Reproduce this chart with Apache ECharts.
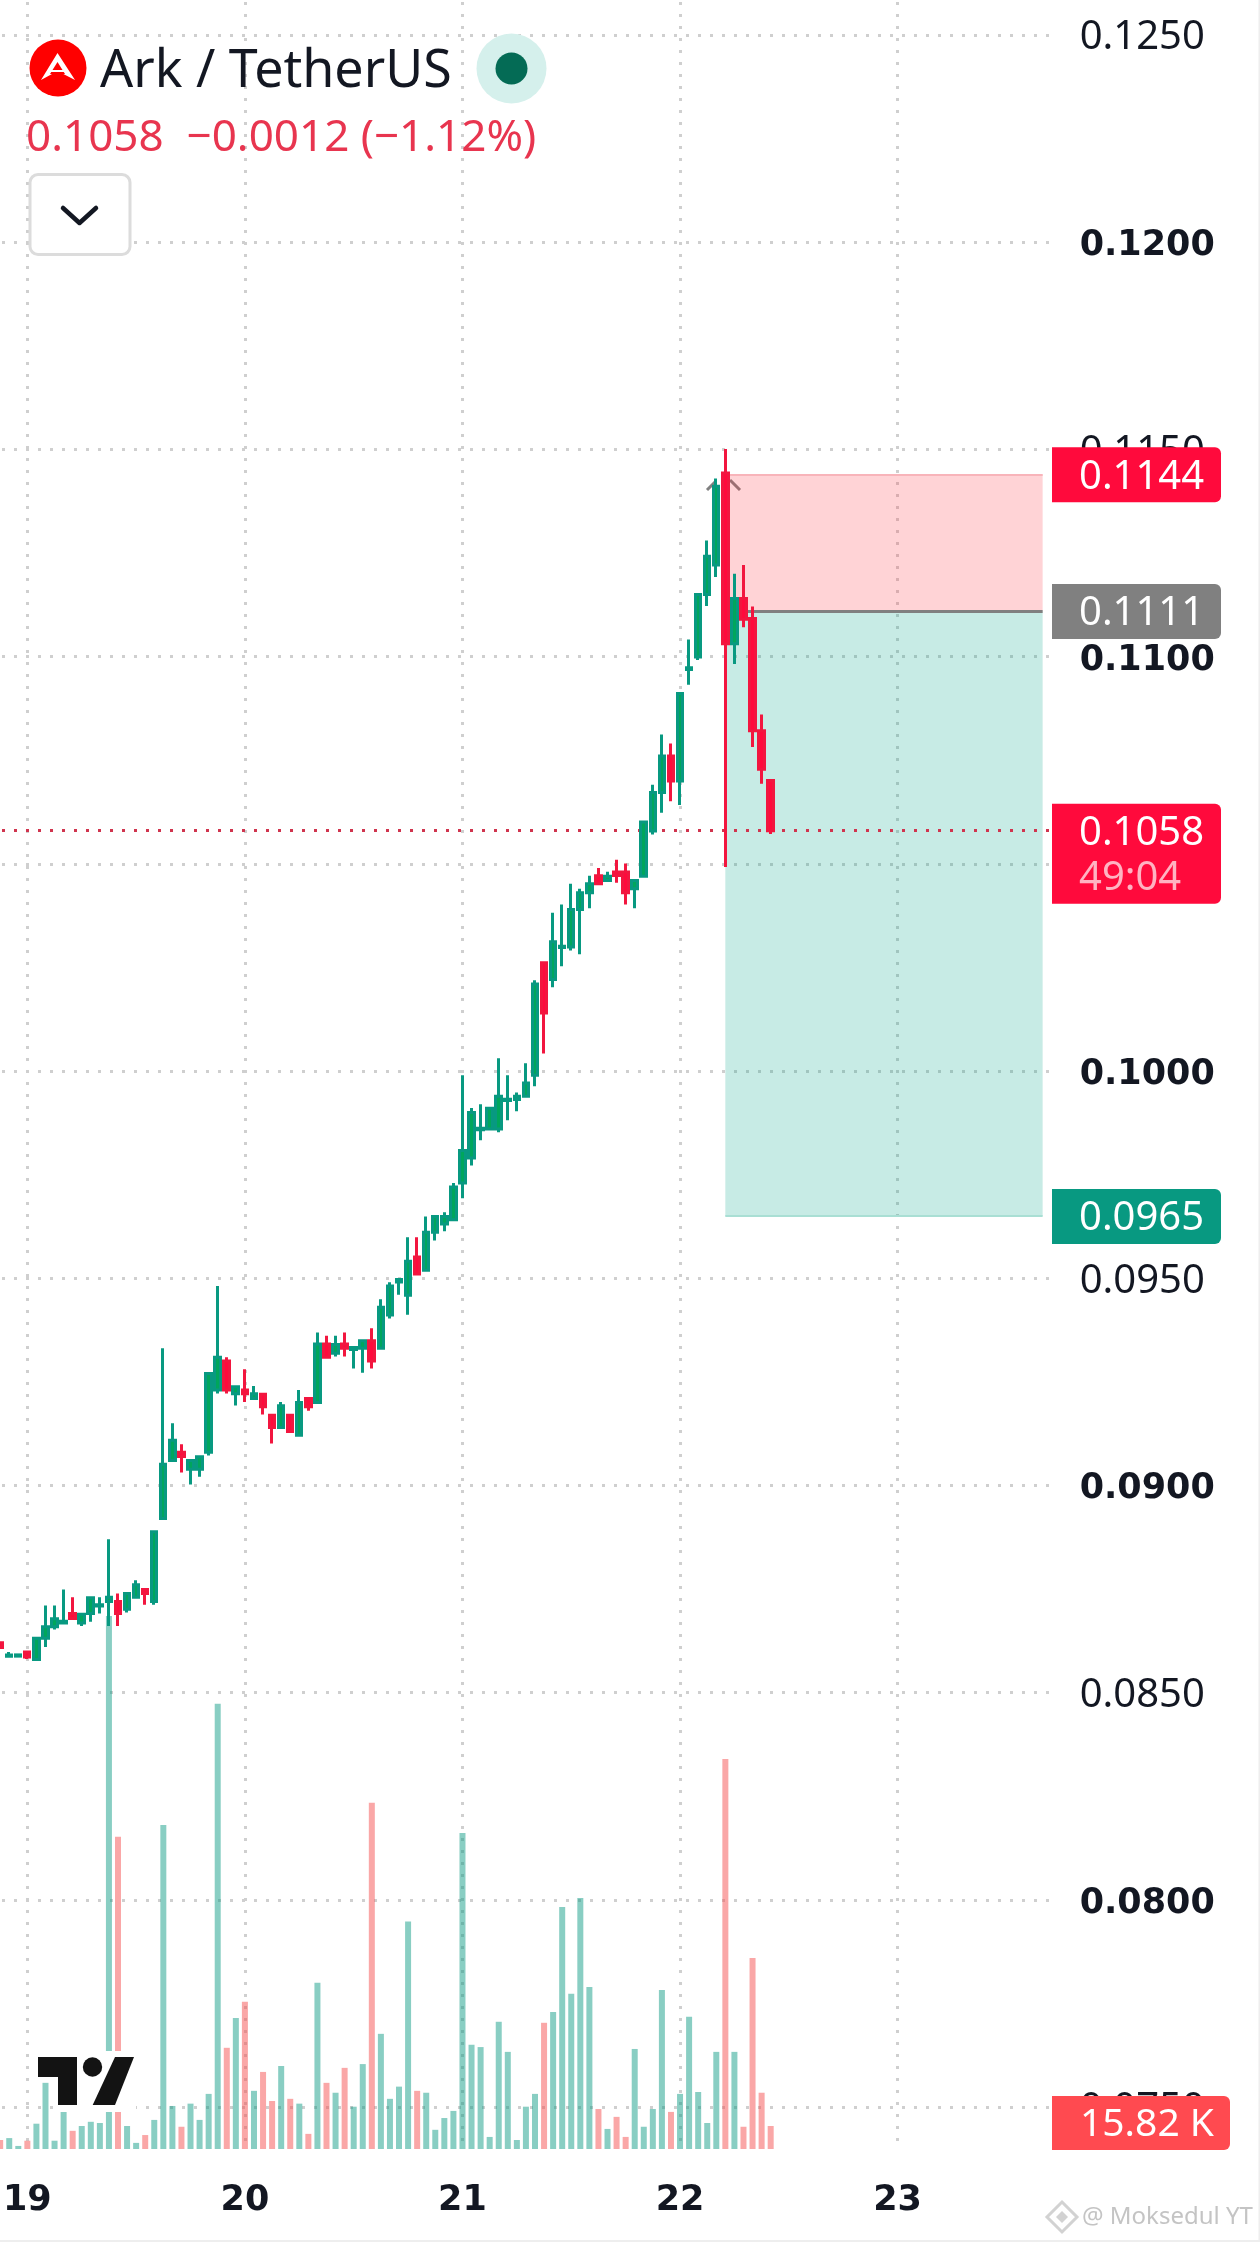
<!DOCTYPE html>
<html><head><meta charset="utf-8">
<style>html,body{margin:0;padding:0;background:#fff}#c{width:1260px;height:2242px}</style>
<script src="https://cdn.jsdelivr.net/npm/echarts@6/dist/echarts.min.js"></script>
</head><body><div id="c"></div>
<script>
// hourly candles, first one is hour -3 relative to the 19th 00:00
const firstHour = -3, lastHour = 113;
const opens = [.0862,.08588,.08588,.08598,.0858,.08631,.08659,.08668,.08691,.08668,.08691,.08709,.0872,.0872,.08701,.0873,.08749,.0872,.0892,.0906,.0908,.09039,.09039,.0908,.0923,.093,.09221,.0923,.0921,.0922,.09169,.0914,.09169,.09121,.0921,.092,.09341,.09319,.09341,.09328,.09331,.09349,.09331,.09411,.09491,.09459,.09551,.09519,.09611,.09631,.09641,.0973,.0979,.09858,.0986,.0986,.09929,.09931,.09939,.0999,.10261,.10221,.10298,.10299,.1039,.1043,.10471,.1046,.1048,.1048,.1044,.1047,.10579,.10672,.1076,.107,.10969,.10999,.1115,.11221,.11443,.11031,.1114,.11092,.10821,.10701];
const highs = [.0862,.08598,.08591,.08598,.08631,.0871,.0871,.08749,.0873,.08689,.08729,.0873,.0887,.08739,.08739,.08771,.08749,.08888,.09331,.0915,.09099,.0906,.09069,.0927,.09481,.09309,.09238,.0928,.0924,.0922,.09169,.09201,.09169,.0923,.0921,.09369,.09361,.09361,.09369,.09333,.09349,.09379,.09449,.0949,.095,.09599,.09599,.09649,.09649,.09659,.0973,.0999,.09911,.0992,.0991,.10031,.0999,.09948,.10019,.10219,.10261,.10382,.10402,.10452,.1044,.10471,.1049,.10481,.1051,.10501,.1046,.10601,.10691,.10812,.1079,.10911,.11041,.1115,.1128,.1143,.11501,.112,.11221,.11121,.1086,.10701];
const lows = [.08609,.08588,.08588,.08581,.0858,.0861,.08652,.08666,.08679,.08661,.08671,.08691,.08661,.08661,.08693,.0873,.08712,.08712,.0892,.0906,.09031,.09002,.09021,.09072,.09222,.09222,.09193,.09201,.0921,.09171,.09101,.0914,.0913,.09121,.0918,.092,.09309,.09311,.09311,.09282,.09272,.09282,.09331,.09403,.0946,.09412,.0951,.09519,.09591,.09613,.09641,.09693,.09772,.09833,.0986,.09852,.09881,.09903,.09939,.09963,.10042,.10202,.10253,.10291,.10282,.10393,.10452,.1046,.10454,.10402,.10393,.1047,.10571,.10623,.10651,.10642,.10932,.10992,.11122,.11192,.10492,.10982,.11071,.10782,.10693,.10572];
const closes = [.08609,.08591,.08591,.08586,.08631,.08659,.08678,.08672,.08679,.08689,.08729,.08712,.0873,.08691,.08739,.0876,.08739,.08888,.09051,.09109,.0907,.0906,.09069,.0927,.09309,.0923,.09238,.09221,.09221,.0919,.0914,.09192,.0913,.092,.0919,.09341,.09309,.0934,.09331,.09333,.09349,.093,.0943,.09481,.09497,.09541,.0951,.09611,.09649,.09649,.0972,.09808,.099,.09862,.0991,.09939,.09932,.09939,.09971,.1021,.1014,.10312,.10301,.1039,.1043,.10452,.10452,.1047,.10472,.1043,.1046,.10601,.10672,.1076,.107,.10911,.10973,.1115,.11242,.11411,.11031,.1114,.1109,.10821,.10728,.1058];
const volumes = [6.2,7.5,2.1,5.7,17.4,45.5,5.7,26,12.5,15.8,18.7,17.9,366.6,214.8,15.8,4.2,9.6,20,222.9,29.6,15.3,31.2,20,37.9,306.2,69.6,90.1,101.3,40,53,33,57.1,34.5,31.2,10.4,114.3,45.5,38.7,55.8,29.1,58.4,238.2,79.2,34.5,42.9,156.4,40,38.7,13.2,21.3,26.2,217.4,71.7,70.1,8.3,87.5,66.8,6.2,29.1,37.9,86.8,94.3,166.5,106.8,172.7,111.4,27.5,13.8,22.1,8.3,68.8,15.3,27.5,109.4,25.5,37.9,90.9,39.2,17.9,66.8,268.3,66.8,15.3,131.4,38.7,15.82];
const priceTickMin = 0.075, priceTickMax = 0.125, priceTickStep = 0.005;
const entryPrice = 0.1111, stopPrice = 0.1144, targetPrice = 0.0965, lastPrice = 0.1058;
const badgePrices = [stopPrice, entryPrice, lastPrice, targetPrice];
const badgeTexts = ['0.1144','0.1111','0.1058','0.0965'];
const badgeColors = ['#FF0A3C','#808080','#FF0A3C','#089981'];
const countdown = '49:04';
const lastVolume = 15.82, lastVolumeText = '15.82 K';
const titleText = 'Ark / TetherUS';
const quoteText = '0.1058  \u22120.0012 (\u22121.12%)';
const watermark = '@ Moksedul YT';

const categories = [];
for (let h = firstHour; h <= lastHour; h++) {
  const d = 19 + Math.floor(h / 24), hh = ((h % 24) + 24) % 24;
  categories.push(d + ' ' + String(hh).padStart(2, '0') + ':00');
}
const dayStart = (i) => categories[i].endsWith(' 00:00');
const catOfHour = (h) => categories[h - firstHour];
const candleData = opens.map((o, i) => [o, closes[i], lows[i], highs[i]]);
const volumeData = volumes.map((v, i) => ({
  value: v,
  itemStyle: { color: closes[i] >= opens[i] ? 'rgba(8,153,129,0.48)' : 'rgba(245,80,80,0.5)' }
}));

const textColor = '#131722';
const regularFont = 'Noto Sans', boldFont = 'DejaVu Sans';
const dot = { color: '#cfcfcf', width: 3, type: [3, 9], dashOffset: 10 };
const zoneStart = catOfHour(77), zoneEnd = catOfHour(112);

const chart = echarts.init(document.getElementById('c'), null, { renderer: 'canvas', width: 1260, height: 2242 });

function badgeItem(params, api) {
  const i = params.dataIndex;
  const y = api.coord([0, badgePrices[i]])[1];
  const isLast = badgePrices[i] === lastPrice;
  const top = y - 27, h = isLast ? 100 : 55;
  const kids = [
    { type: 'rect', shape: { x: 1052, y: top, width: 169, height: h, r: [0, 6, 6, 0] }, style: { fill: badgeColors[i] } },
    { type: 'text', style: { x: 1079, y: y + 3, text: badgeTexts[i], fill: '#fff', font: '40px "' + regularFont + '"', textAlign: 'left', textVerticalAlign: 'middle' } }
  ];
  if (isLast) kids.push({ type: 'text', style: { x: 1079, y: y + 48, text: countdown, fill: '#FFB3C2', font: '40px "' + regularFont + '"', textAlign: 'left', textVerticalAlign: 'middle' } });
  return { type: 'group', children: kids };
}
function volumeBadge(params, api) {
  const y = api.coord([0, lastVolume])[1];
  return { type: 'group', children: [
    { type: 'rect', shape: { x: 1052, y: y - 30, width: 178, height: 54, r: [0, 6, 6, 0] }, style: { fill: '#FF4A50' } },
    { type: 'text', style: { x: 1080, y: y - 1, text: lastVolumeText, fill: '#fff', font: '39px "' + regularFont + '"', textAlign: 'left', textVerticalAlign: 'middle' } }
  ] };
}

chart.setOption({
  animation: false,
  backgroundColor: '#fff',
  title: { text: titleText, left: 95, top: 41, textStyle: { fontFamily: regularFont, fontSize: 52, fontWeight: 'normal', color: textColor } },
  grid: [
    { left: -1.95, right: 208.3, top: 35, height: 2072 },
    { left: -1.95, right: 208.3, top: 0, bottom: 93 }
  ],
  xAxis: [
    { type: 'category', gridIndex: 0, data: categories, boundaryGap: false, show: false },
    { type: 'category', gridIndex: 1, data: categories, boundaryGap: false,
      axisLine: { show: false }, axisTick: { show: false },
      splitLine: { show: true, interval: (i) => dayStart(i), lineStyle: dot },
      axisLabel: { interval: (i) => dayStart(i), formatter: (v) => v.split(' ')[0], margin: 34,
        fontFamily: boldFont, fontWeight: 'bold', fontSize: 35, color: textColor } }
  ],
  yAxis: [
    { type: 'value', gridIndex: 0, position: 'right', min: priceTickMin, max: priceTickMax, interval: priceTickStep,
      axisLine: { show: false }, axisTick: { show: false },
      splitLine: { show: true, lineStyle: dot },
      axisLabel: { margin: 28, align: 'left',
        formatter: (v) => (Math.round(v * 10000) % 100 === 0 ? '{b|' : '{r|') + v.toFixed(4) + '}',
        rich: {
          b: { fontFamily: boldFont, fontWeight: 'bold', fontSize: 35, color: textColor, padding: [8, 0, 0, 0] },
          r: { fontFamily: regularFont, fontSize: 40, color: textColor, padding: [6, 0, 0, 0] }
        } } },
    { type: 'value', gridIndex: 1, show: false, min: 0, max: 1478, splitLine: { show: false } }
  ],
  graphic: { elements: [
    // position tool handle behind the candles
    { type: 'polyline', z: 1, shape: { points: [[707, 490], [716, 481]] }, style: { stroke: '#808080', lineWidth: 3, fill: null } },
    { type: 'polyline', z: 1, shape: { points: [[730, 480], [740, 490]] }, style: { stroke: '#808080', lineWidth: 3, fill: null } },
    // header
    { type: 'circle', z: 20, shape: { cx: 58, cy: 68, r: 28.5 }, style: { fill: '#FF0000' } },
    { type: 'polygon', z: 21, shape: { points: [[57.5, 53], [75, 80], [57.5, 71], [41, 80]] }, style: { fill: '#fff' } },
    { type: 'polygon', z: 22, shape: { points: [[57.5, 62], [65, 74], [50, 74]] }, style: { fill: '#FF0000' } },
    { type: 'rect', z: 23, shape: { x: 51, y: 70, width: 13, height: 2 }, style: { fill: '#fff' } },
    { type: 'circle', z: 20, shape: { cx: 511.5, cy: 68.5, r: 35 }, style: { fill: '#D5F0EC' } },
    { type: 'circle', z: 21, shape: { cx: 511.5, cy: 68.5, r: 16 }, style: { fill: '#046B55' } },
    { type: 'text', z: 20, style: { x: 26, y: 138, text: quoteText, fill: '#E8354F', font: '44px "Noto Sans"', textVerticalAlign: 'middle' } },
    { type: 'rect', z: 20, shape: { x: 30, y: 174.5, width: 100, height: 80, r: 8 }, style: { fill: '#fff', stroke: '#dcdcdc', lineWidth: 3 } },
    { type: 'polyline', z: 21, shape: { points: [[63, 208], [79.5, 223], [96, 208]] }, style: { stroke: '#131722', lineWidth: 4.5, fill: null, lineCap: 'round', lineJoin: 'round' } },
    // TradingView mark
    { type: 'rect', z: 30, shape: { x: 60, y: 2051, width: 76, height: 61 }, style: { fill: '#fff' } },
    { type: 'polygon', z: 31, shape: { points: [[38, 2057], [77, 2057], [77, 2105], [58, 2105], [58, 2077], [38, 2077]] }, style: { fill: '#131313' } },
    { type: 'circle', z: 31, shape: { cx: 92.5, cy: 2067, r: 9.7 }, style: { fill: '#131313' } },
    { type: 'polygon', z: 31, shape: { points: [[115, 2057], [134, 2057], [115, 2105], [92.7, 2105]] }, style: { fill: '#131313' } },
    // watermark
    { type: 'polygon', z: 40, shape: { points: [[1062, 2202], [1077, 2217], [1062, 2232], [1047, 2217]] }, style: { fill: null, stroke: '#d2d2d2', lineWidth: 3 } },
    { type: 'polygon', z: 40, shape: { points: [[1062, 2211], [1068, 2217], [1062, 2223], [1056, 2217]] }, style: { fill: '#d2d2d2' } },
    { type: 'text', z: 40, style: { x: 1082, y: 2217, text: watermark, fill: '#c4c4c4', font: '24px "Noto Sans"', textVerticalAlign: 'middle' } },
    { type: 'rect', z: 40, shape: { x: 1258.5, y: 0, width: 1.5, height: 2242 }, style: { fill: '#eeeeee' } },
    { type: 'rect', z: 40, shape: { x: 0, y: 2240, width: 1260, height: 2 }, style: { fill: '#eeeeee' } }
  ] },
  series: [
    { name: 'Volume', type: 'bar', xAxisIndex: 1, yAxisIndex: 1, barWidth: 6, data: volumeData, z: 2, silent: true },
    { name: 'ARK/USDT', type: 'candlestick', xAxisIndex: 0, yAxisIndex: 0, barWidth: 6, z: 3, data: candleData,
      itemStyle: { color: '#00A65C', borderColor: '#089981', color0: '#FF0A3C', borderColor0: '#F2163F', borderWidth: 3 },
      markArea: { silent: true, z: 1, data: [
        [{ xAxis: zoneStart, yAxis: stopPrice, itemStyle: { color: 'rgba(255,45,60,0.21)' } }, { xAxis: zoneEnd, yAxis: entryPrice }],
        [{ xAxis: zoneStart, yAxis: entryPrice, itemStyle: { color: 'rgba(0,165,135,0.22)' } }, { xAxis: zoneEnd, yAxis: targetPrice }]
      ] },
      markLine: { silent: true, z: 1, symbol: 'none', precision: 5, label: { show: false }, data: [
        { yAxis: lastPrice, lineStyle: { color: '#D0344E', width: 3, type: [3, 9], dashOffset: 10 } },
        [{ xAxis: zoneStart, yAxis: entryPrice, lineStyle: { color: '#808080', width: 3, type: 'solid' } }, { xAxis: zoneEnd, yAxis: entryPrice }],
        [{ xAxis: zoneStart, yAxis: stopPrice, lineStyle: { color: '#F8B4BA', width: 2, type: 'solid' } }, { xAxis: zoneEnd, yAxis: stopPrice }],
        [{ xAxis: zoneStart, yAxis: targetPrice, lineStyle: { color: '#A9DFD4', width: 2, type: 'solid' } }, { xAxis: zoneEnd, yAxis: targetPrice }]
      ] } },
    { name: 'Price badges', type: 'custom', xAxisIndex: 0, yAxisIndex: 0, z: 10, silent: true, clip: false,
      data: badgePrices.map((p) => [0, p]), encode: { x: 0, y: 1 }, renderItem: badgeItem },
    { name: 'Volume badge', type: 'custom', xAxisIndex: 1, yAxisIndex: 1, z: 10, silent: true, clip: false,
      data: [[0, lastVolume]], encode: { x: 0, y: 1 }, renderItem: volumeBadge }
  ]
});
</script></body></html>
